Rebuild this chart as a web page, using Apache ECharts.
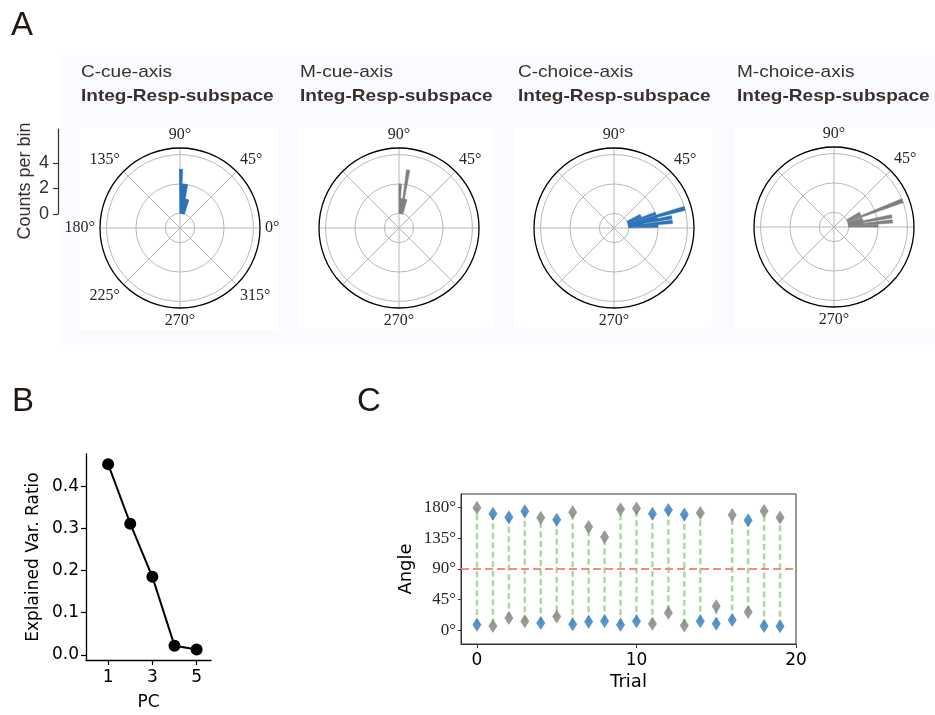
<!DOCTYPE html>
<html><head><meta charset="utf-8">
<script src="https://cdn.jsdelivr.net/npm/echarts@6/dist/echarts.min.js"></script>
<style>html,body{margin:0;padding:0;background:#fff}#c{width:935px;height:715px}</style>
</head><body><div id="c"></div>
<script>
// ---------- Panel A data (polar histograms) ----------
const polarTitles = ['C-cue-axis', 'M-cue-axis', 'C-choice-axis', 'M-choice-axis'];
const polarSubtitle = 'Integ-Resp-subspace';
const cCueAngles = [74, 76.5, 79, 81.5, 84, 86.5, 89];
const cCueCounts = [1, 1, 1, 2, 2, 2, 3];
const mCueAngles = [76, 78.5, 81, 83.5, 86, 88.5];
const mCueCounts = [1, 1, 3, 1, 1, 2];
const cChoiceAngles = [2.5, 6, 8.5, 10.5, 13, 15.5, 19.5, 23, 26];
const cChoiceCounts = [2, 3, 1, 3, 2, 4, 2, 1, 1];
const mChoiceAngles = [1.5, 5.5, 8, 10.5, 13.5, 16.5, 21, 25, 28.5];
const mChoiceCounts = [2, 3, 1, 3, 1, 1, 4, 1, 1];
const angleTickLabelsFull = [0, 45, 90, 135, 180, 225, 270, 315];
const angleTickLabelsShort = [45, 90, 270];
const countTicks = [0, 2, 4];

// ---------- Panel B data ----------
const pcNumbers = [1, 2, 3, 4, 5];
const explainedVar = [0.452, 0.311, 0.185, 0.022, 0.013];
const pcTicks = [1, 3, 5];
const varTicks = [0, 0.1, 0.2, 0.3, 0.4];

// ---------- Panel C data ----------
const trials = [0, 1, 2, 3, 4, 5, 6, 7, 8, 9, 10, 11, 12, 13, 14, 15, 16, 17, 18, 19];
const blueAngles = [8.3, 171, 166, 174.6, 10.8, 162.4, 8.8, 12.7, 13.7, 8.3, 13.2, 171.2, 176.6, 169.8, 13.2, 9.8, 15.2, 161.4, 6.4, 5.9];
const grayAngles = [180, 6.4, 18, 13.2, 165, 20.5, 173.2, 151.7, 137, 177.6, 178.6, 9.8, 26, 7.3, 172.2, 35.2, 169.3, 26.9, 175.1, 165.4];
const trialTicks = [0, 10, 20];
const angleTicksC = [0, 45, 90, 135, 180];
const refAngle = 90;

// ---------- styling ----------
const BLUE = '#2a72b5', GRAY = '#7f7f7f';
const TXT = '#3a302d';
const polarCenters = [[180, 228], [399, 228], [614, 228], [834, 227]];
const titleX = [81, 300, 518, 737];
const polarSets = [
  {angles: cCueAngles, counts: cCueCounts, color: BLUE, labels: angleTickLabelsFull},
  {angles: mCueAngles, counts: mCueCounts, color: GRAY, labels: angleTickLabelsShort},
  {angles: cChoiceAngles, counts: cChoiceCounts, color: BLUE, labels: angleTickLabelsShort},
  {angles: mChoiceAngles, counts: mChoiceCounts, color: GRAY, labels: angleTickLabelsShort}
];

const chart = echarts.init(document.getElementById('c'), null, {renderer: 'canvas'});

const polar = [], angleAxis = [], radiusAxis = [], series = [];
polarSets.forEach((ps, i) => {
  polar.push({center: polarCenters[i], radius: 80});
  angleAxis.push({
    polarIndex: i, type: 'value', min: 0, max: 360, interval: 45,
    startAngle: 0, clockwise: false,
    axisLine: {show: true, lineStyle: {color: '#000', width: 1.3}},
    axisTick: {show: false},
    splitLine: {show: true, lineStyle: {color: '#b8b8b8', width: 1}},
    axisLabel: {
      margin: 5, fontFamily: 'Liberation Serif', fontSize: 16, color: '#2b2523',
      formatter: v => (ps.labels.indexOf(v) >= 0 ? v + '°' : '')
    }
  });
  radiusAxis.push({
    polarIndex: i, type: 'value', min: -1, max: 4.45, interval: 1,
    axisLine: {show: false}, axisTick: {show: false}, axisLabel: {show: false},
    splitLine: {show: true, lineStyle: {color: ['rgba(0,0,0,0)', '#b8b8b8'], width: 1}}
  });
  const color = ps.color;
  series.push({
    type: 'custom', coordinateSystem: 'polar', polarIndex: i, silent: true, z: 3,
    data: ps.angles.map((a, j) => [ps.counts[j], a]),
    renderItem: (params, api) => {
      const cnt = api.value(0), ang = api.value(1), w = 1.6;
      const cs = params.coordSys;
      const pB = api.coord([0, ang]);
      const pT = api.coord([cnt, ang]);
      const pL = api.coord([cnt, ang + w]);
      const pR = api.coord([cnt, ang - w]);
      const r0 = Math.hypot(pB[0] - cs.cx, pB[1] - cs.cy);
      const r = Math.hypot(pT[0] - cs.cx, pT[1] - cs.cy);
      const a1 = Math.atan2(pL[1] - cs.cy, pL[0] - cs.cx);
      const a2 = Math.atan2(pR[1] - cs.cy, pR[0] - cs.cx);
      return {type: 'sector', shape: {cx: cs.cx, cy: cs.cy, r0: r0, r: r, startAngle: a1, endAngle: a2, clockwise: true},
        style: {fill: color, stroke: color, lineWidth: 0.6}};
    }
  });
});

// Panel B line
series.push({
  type: 'line', xAxisIndex: 1, yAxisIndex: 1, silent: true,
  data: pcNumbers.map((p, i) => [p, explainedVar[i]]),
  symbol: 'circle', symbolSize: 12,
  lineStyle: {color: '#000', width: 2}, itemStyle: {color: '#000'}, z: 5
});

// Panel C: green connectors
series.push({
  type: 'custom', xAxisIndex: 2, yAxisIndex: 2, silent: true, z: 2,
  data: trials.map((t, i) => [t, blueAngles[i], grayAngles[i]]),
  encode: {x: 0, y: [1, 2]},
  renderItem: (params, api) => {
    const p1 = api.coord([api.value(0), api.value(1)]);
    const p2 = api.coord([api.value(0), api.value(2)]);
    return {type: 'line', shape: {x1: p1[0], y1: p1[1], x2: p2[0], y2: p2[1]},
      style: {stroke: '#a6d29a', lineWidth: 2.5, lineDash: [6, 3.5], opacity: 0.9}};
  },
  markLine: {
    silent: true, symbol: ['none', 'none'], label: {show: false},
    lineStyle: {color: '#f47f79', width: 2, type: [8, 4], opacity: 0.9},
    data: [{yAxis: refAngle}]
  }
});
series.push({
  type: 'scatter', xAxisIndex: 2, yAxisIndex: 2, silent: true, z: 4,
  data: trials.map((t, i) => [t, grayAngles[i]]),
  symbol: 'diamond', symbolSize: [9, 14], itemStyle: {color: '#7e827e'}
});
series.push({
  type: 'scatter', xAxisIndex: 2, yAxisIndex: 2, silent: true, z: 4,
  data: trials.map((t, i) => [t, blueAngles[i]]),
  symbol: 'diamond', symbolSize: [9, 14], itemStyle: {color: '#2f7bbf'}
});

const dejavu = 'DejaVu Sans';
const option = {
  backgroundColor: '#ffffff',
  animation: false,
  textStyle: {fontFamily: 'Liberation Sans'},
  polar: polar, angleAxis: angleAxis, radiusAxis: radiusAxis,
  grid: [
    {left: 58, top: 129, width: 10, height: 85, outerBoundsMode: 'none'},
    {left: 86, top: 454, width: 125, height: 206, outerBoundsMode: 'none'},
    {left: 461, top: 494, width: 335, height: 150, outerBoundsMode: 'none', show: true, borderColor: '#333', borderWidth: 1, backgroundColor: '#fff'}
  ],
  xAxis: [
    {gridIndex: 0, type: 'value', show: false, min: 0, max: 1},
    {gridIndex: 1, type: 'value', min: 0, max: 5.65,
      axisLine: {show: true, onZero: false, lineStyle: {color: '#000', width: 1.3}},
      axisTick: {show: true, customValues: pcTicks, length: 5, lineStyle: {color: '#000', width: 1.2}},
      axisLabel: {customValues: pcTicks, fontFamily: dejavu, fontSize: 17, color: '#000', margin: 9},
      splitLine: {show: false},
      name: 'PC', nameLocation: 'middle', nameGap: 34,
      nameTextStyle: {fontFamily: dejavu, fontSize: 17, color: '#000'}},
    {gridIndex: 2, type: 'value', min: -1, max: 20,
      axisLine: {show: true, onZero: false, lineStyle: {color: '#333', width: 1}},
      axisTick: {show: true, customValues: trialTicks, length: 4, lineStyle: {color: '#333'}},
      axisLabel: {customValues: trialTicks, fontFamily: dejavu, fontSize: 17, color: '#000', margin: 8},
      splitLine: {show: false},
      name: 'Trial', nameLocation: 'middle', nameGap: 29,
      nameTextStyle: {fontFamily: dejavu, fontSize: 18, color: '#000'}}
  ],
  yAxis: [
    {gridIndex: 0, type: 'value', min: 0, max: 6.67,
      axisLine: {show: true, lineStyle: {color: TXT, width: 1.2}},
      axisTick: {show: true, customValues: countTicks, length: 5, lineStyle: {color: TXT, width: 1.2}},
      axisLabel: {customValues: countTicks, fontFamily: 'Liberation Sans', fontSize: 18, color: TXT, margin: 9},
      splitLine: {show: false}},
    {gridIndex: 1, type: 'value', min: -0.012, max: 0.476,
      axisLine: {show: true, onZero: false, lineStyle: {color: '#000', width: 1.3}},
      axisTick: {show: true, customValues: varTicks, length: 5, lineStyle: {color: '#000', width: 1.2}},
      axisLabel: {customValues: varTicks, fontFamily: dejavu, fontSize: 17, color: '#000', margin: 7,
        formatter: v => v.toFixed(1)},
      splitLine: {show: false},
      name: 'Explained Var. Ratio', nameLocation: 'middle', nameGap: 44,
      nameTextStyle: {fontFamily: dejavu, fontSize: 17, color: '#000'}},
    {gridIndex: 2, type: 'value', min: -20, max: 200,
      axisLine: {show: true, onZero: false, lineStyle: {color: '#333', width: 1}},
      axisTick: {show: true, customValues: angleTicksC, length: 3, lineStyle: {color: '#333'}},
      axisLabel: {customValues: angleTicksC, fontFamily: 'Liberation Serif', fontSize: 17, color: '#2b2523', margin: 5,
        formatter: v => v + '°'},
      splitLine: {show: false},
      name: 'Angle', nameLocation: 'middle', nameGap: 46,
      nameTextStyle: {fontFamily: dejavu, fontSize: 18, color: '#000'}}
  ],
  graphic: [
    {type: 'rect', z: -10, silent: true, shape: {x: 60, y: 55, width: 875, height: 290}, style: {fill: '#f9fbfe'}},
    {type: 'rect', z: -9, silent: true, shape: {x: 80, y: 128, width: 197, height: 202}, style: {fill: '#ffffff'}},
    {type: 'rect', z: -9, silent: true, shape: {x: 300, y: 128, width: 192, height: 200}, style: {fill: '#ffffff'}},
    {type: 'rect', z: -9, silent: true, shape: {x: 515, y: 128, width: 197, height: 200}, style: {fill: '#ffffff'}},
    {type: 'rect', z: -9, silent: true, shape: {x: 735, y: 128, width: 200, height: 200}, style: {fill: '#ffffff'}},
    {type: 'text', x: 11, y: 26, silent: true, style: {text: 'A', font: '33px "Liberation Sans"', fill: '#231815', verticalAlign: 'middle'}},
    {type: 'text', x: 12, y: 402, silent: true, style: {text: 'B', font: '33px "Liberation Sans"', fill: '#231815', verticalAlign: 'middle'}},
    {type: 'text', x: 357, y: 402, silent: true, style: {text: 'C', font: '33px "Liberation Sans"', fill: '#231815', verticalAlign: 'middle'}},
    {type: 'text', x: 25, y: 181, rotation: Math.PI / 2, silent: true,
      style: {text: 'Counts per bin', font: '18px "Liberation Sans"', fill: TXT, align: 'center', verticalAlign: 'middle'}}
  ].concat(polarTitles.map((t, i) => ({type: 'text', x: titleX[i], y: 72, scaleX: 1.12, silent: true,
      style: {text: t, font: '17px "Liberation Sans"', fill: TXT, verticalAlign: 'middle'}})))
   .concat(polarTitles.map((t, i) => ({type: 'text', x: titleX[i], y: 96, scaleX: 1.12, silent: true,
      style: {text: polarSubtitle, font: 'bold 17px "Liberation Sans"', fill: TXT, verticalAlign: 'middle'}}))),
  series: series
};
chart.setOption(option);
</script></body></html>
